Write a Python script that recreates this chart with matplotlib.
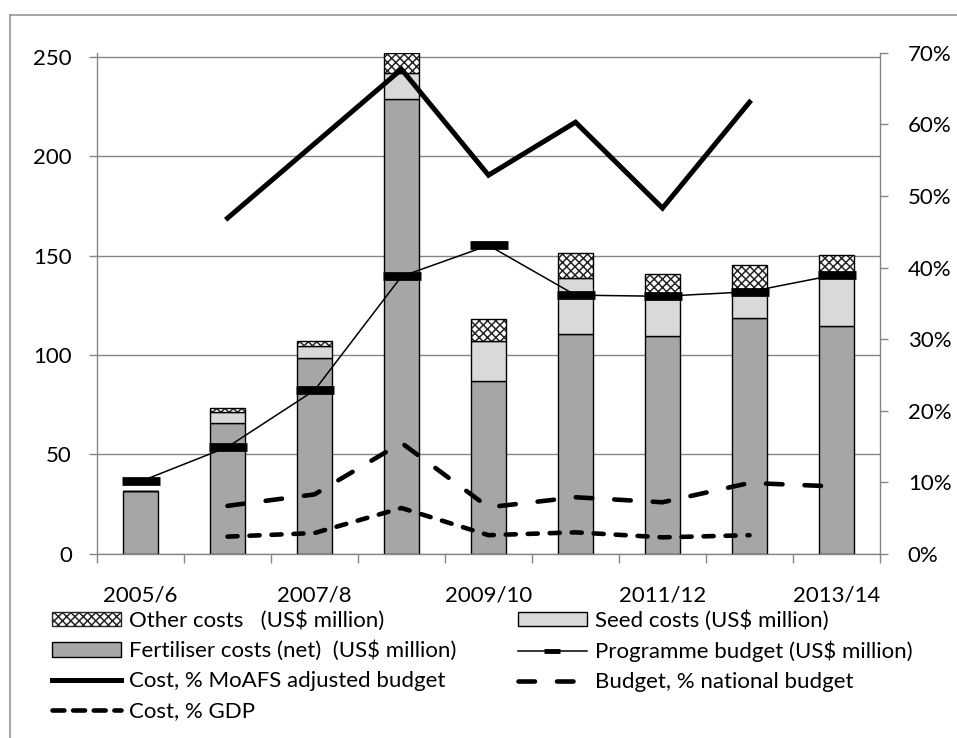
import numpy as np
import matplotlib
matplotlib.use("Agg")
import matplotlib.pyplot as plt
from matplotlib.patches import Patch
from matplotlib.lines import Line2D
from matplotlib.ticker import FuncFormatter, FixedLocator

plt.rcParams['font.family'] = ['Lato', 'DejaVu Sans']
plt.rcParams['hatch.linewidth'] = 1.1

# ---------------- data ----------------
categories = ['2005/6', '2006/7', '2007/8', '2008/9', '2009/10',
              '2010/11', '2011/12', '2012/13', '2013/14']
fertiliser = [31.8, 66.0, 98.3, 228.8, 87.0, 110.5, 109.6, 118.5, 114.5]
seed       = [0.0, 5.2, 6.4, 12.9, 20.0, 28.1, 20.1, 14.2, 25.2]
other      = [0.0, 2.3, 2.1, 10.1, 11.3, 12.5, 11.2, 12.6, 10.6]
programme_budget = [36.4, 53.7, 82.2, 139.5, 155.1, 130.1, 129.5, 131.8, 140.4]
cost_moafs_pct   = [np.nan, 46.9, 57.3, 67.7, 52.9, 60.3, 48.3, 63.1, np.nan]
budget_nat_pct   = [np.nan, 6.7, 8.3, 15.5, 6.5, 7.9, 7.2, 9.9, 9.4]
cost_gdp_pct     = [np.nan, 2.4, 2.9, 6.4, 2.6, 3.0, 2.3, 2.6, np.nan]
left_ticks  = [0, 50, 100, 150, 200, 250]
right_ticks = [0, 10, 20, 30, 40, 50, 60, 70]

# ---------------- figure ----------------
W, H = 957, 738
fig = plt.figure(figsize=(W / 100, H / 100), dpi=100)
ax_left, ax_right_px, ax_top, ax_bottom = 97, 880, 52.8, 553.8
ax = fig.add_axes([ax_left / W, 1 - ax_bottom / H,
                   (ax_right_px - ax_left) / W, (ax_bottom - ax_top) / H])

GRID = '#868686'
x = np.arange(len(categories))
bw = 0.402
fert = np.array(fertiliser)
sd = np.array(seed)
oth = np.array(other)

ax.bar(x, fert, bw, color='#a6a6a6', edgecolor='black', linewidth=1.0, zorder=2)
ax.bar(x, sd, bw, bottom=fert, color='#d9d9d9', edgecolor='black', linewidth=1.0, zorder=2)
ax.bar(x, oth, bw, bottom=fert + sd, color='white', edgecolor='#262626',
       hatch='xxxx', linewidth=0, zorder=2)
ax.bar(x, oth, bw, bottom=fert + sd, color='none', edgecolor='black',
       linewidth=1.0, zorder=2.1)

ax.plot(x, programme_budget, color='black', lw=1.1, marker='_',
        markersize=28, markeredgewidth=6.3, zorder=4)

ax.set_xlim(-0.5, len(categories) - 0.5)
ax.set_ylim(0, 251.96)
ax.set_yticks(left_ticks)
ax.yaxis.grid(True, color=GRID, lw=1.0)
ax.set_axisbelow(True)
ax.tick_params(axis='y', direction='out', length=6, width=1, color=GRID,
               labelsize=16, pad=12)

# x ticks: marks at category boundaries, labels at every other category
ax.xaxis.set_major_locator(FixedLocator(np.arange(-0.5, len(categories), 1.0)))
ax.xaxis.set_major_formatter(FuncFormatter(lambda v, p: ''))
ax.xaxis.set_minor_locator(FixedLocator(x[::2]))
ax.set_xticklabels([categories[i] for i in x[::2]], minor=True)
ax.tick_params(axis='x', which='major', direction='out', length=6.5, width=1, color=GRID)
ax.tick_params(axis='x', which='minor', length=0, labelsize=16, pad=23)

for s in ['top', 'right']:
    ax.spines[s].set_visible(False)
for s in ['left', 'bottom']:
    ax.spines[s].set_color(GRID)
    ax.spines[s].set_linewidth(1.0)

ax2 = ax.twinx()
ax2.set_ylim(0, 70)
ax2.set_yticks(right_ticks)
ax2.yaxis.set_major_formatter(FuncFormatter(lambda v, p: f'{v:.0f}%'))
ax2.tick_params(axis='y', direction='out', length=6, width=1, color=GRID,
                labelsize=16, pad=14)
for s in ['top', 'left', 'bottom']:
    ax2.spines[s].set_visible(False)
ax2.spines['right'].set_color(GRID)
ax2.spines['right'].set_linewidth(1.0)

ax2.plot(x, cost_moafs_pct, color='black', lw=3.6, solid_joinstyle='miter', zorder=3)
ax2.plot(x, budget_nat_pct, color='black', lw=3.3, dash_capstyle='round',
         linestyle=(0, (3.6, 4.8)), zorder=3)
ax2.plot(x, cost_gdp_pct, color='black', lw=3.3, dash_capstyle='round',
         linestyle=(0, (2.2, 2.6)), zorder=3)

# ---------------- legend ----------------
h_other = Patch(facecolor='white', edgecolor='#262626', hatch='xxxx', lw=1.0)
h_fert = Patch(facecolor='#a6a6a6', edgecolor='black', lw=1.0)
h_seed = Patch(facecolor='#d9d9d9', edgecolor='black', lw=1.0)
h_prog = Line2D([], [], color='black', lw=1.1, marker='_', markersize=11, markeredgewidth=3.5)
h_moafs = Line2D([], [], color='black', lw=3.6)
h_nat = Line2D([], [], color='black', lw=3.3, dash_capstyle='round', linestyle=(0, (3.6, 4.8)))
h_gdp = Line2D([], [], color='black', lw=3.3, dash_capstyle='round', linestyle=(0, (2.6, 1.9)))

leg_kw = dict(loc='upper left', frameon=False, fontsize=16, handlelength=3.1,
              handleheight=0.6, handletextpad=0.35, labelspacing=0.45,
              borderaxespad=0, borderpad=0)
fig.legend([h_other, h_fert, h_moafs, h_gdp],
           ['Other costs   (US$ million)', 'Fertiliser costs (net)  (US$ million)',
            'Cost, % MoAFS adjusted budget', 'Cost, % GDP'],
           bbox_to_anchor=(52 / W, 1 - 610 / H), **leg_kw)
fig.legend([h_seed, h_prog, h_nat],
           ['Seed costs (US$ million)', 'Programme budget (US$ million)',
            'Budget, % national budget'],
           bbox_to_anchor=(518 / W, 1 - 610 / H), **leg_kw)

# outer chart-area border (extends past right and bottom edges)
bx, by = 9.7 / W, 1 - 15 / H
fig.add_artist(Line2D([bx, bx], [by, -0.01], color='#8c8c8c', lw=1.1, transform=fig.transFigure))
fig.add_artist(Line2D([bx, 1.01], [by, by], color='#8c8c8c', lw=1.1, transform=fig.transFigure))

fig.savefig('out.png', dpi=100)
